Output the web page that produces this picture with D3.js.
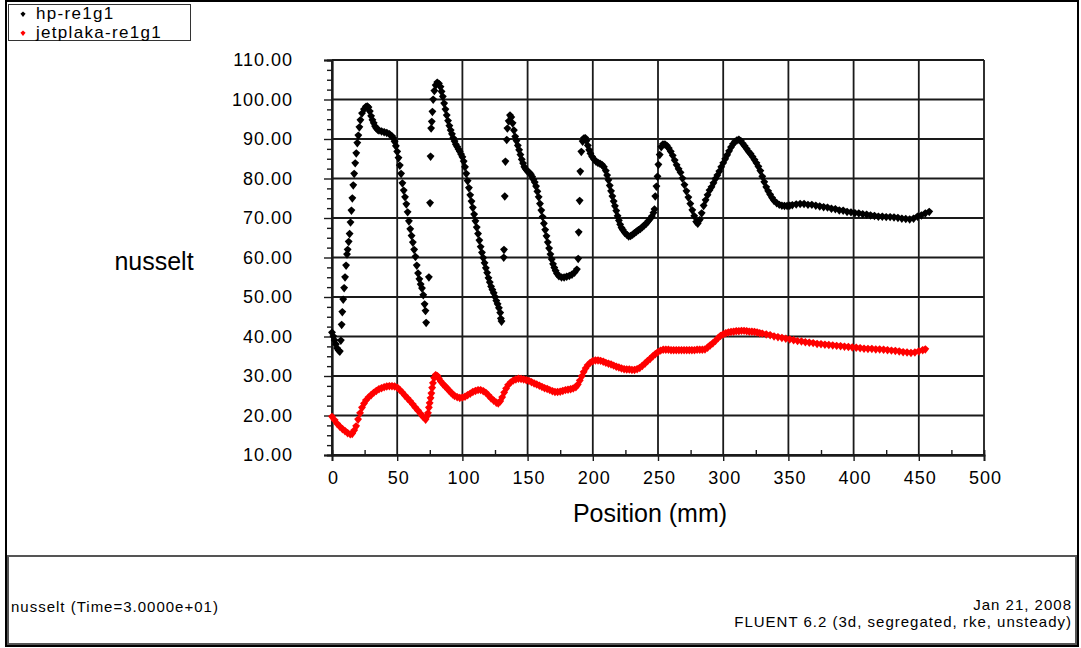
<!DOCTYPE html>
<html>
<head>
<meta charset="utf-8">
<script src="https://cdn.jsdelivr.net/npm/d3@7/dist/d3.min.js"></script>
<style>
  html, body { margin: 0; padding: 0; background: #fff; }
  svg { display: block; }
  text { font-family: "Liberation Sans", Arial, Helvetica, sans-serif; fill: #000; }
</style>
</head>
<body>
<svg id="chart" width="1081" height="648"></svg>
<script>
// ---- data: nusselt number along the plate, [position (mm), nusselt] ----
const seriesNames = ["hp-re1g1", "jetplaka-re1g1"];
const seriesColors = ["#000000", "#ff0000"];

const hpPoints = [
  [0,41],[1,40],[2,39],[3,38],[4,37],[5,36.5],[6,36.2],[6.8,39],[7.4,43],[7.9,46.2],
  [8.6,49.4],[9.3,52.3],[10,55],[10.8,58],[11.5,60.8],[12,62],[12.8,64],[13.5,66],[14.2,68.9],[14.9,71.9],
  [15.6,75],[16.3,78.3],[17,81.2],[17.8,83.9],[18.6,86.4],[19.4,89],[20.2,90.9],[21,93],[21.8,94.8],[23,96.5],
  [24.5,97.5],[26,98.2],[27,98.3],[28,98],[29,97],[30,95.8],[31,94.8],[32,94],[33,93.2],[34,92.7],
  [35,92.4],[36,92.2],[38,92],[40,91.8],[42,91.6],[44,91.3],[46,90.7],[47,90.2],[48,89.3],[49,88.2],
  [50,86.8],[51,85.2],[52,83.3],[53,81.2],[54,78.8],[55,77],[56,75.3],[57,73.5],[58,71.5],[59,69.2],
  [60,67.2],[61,65.5],[62,63.8],[63,62],[64,60.2],[65,58],[66,56],[67,54.5],[68,53.2],[69,52.2],
  [70,50.5],[71,48.2],[71.7,46.5],[72.2,43.5],
  [74.3,55],[75.2,73.8],[75.6,85.6],[76,92.7],[76.5,94.4],[77,96.9],[77.6,100],[78.5,102.2],[79.5,103.6],[80.7,104.3],
  [82,104],[83.2,103.2],[84,102],[85,100.7],[86,99],[87,97.5],[88,96],[89,94.6],[90,93.3],[91,92.2],
  [92,91.2],[93,90.2],[94,89.4],[95,88.6],[96,88],[97,87.4],[98,86.8],[99,86.1],[100,85.4],[101,84.3],
  [102,82.9],[103,81.2],[104,79.4],[105,77.6],[106,75.8],[107,74.2],[108,72.6],[109,70.9],[110,69.2],[111,67.6],
  [112,66],[113,64.3],[114,62.7],[115,61.2],[116,59.9],[117,58.6],[118,57.3],[119,56.1],[120,54.8],[121,53.7],
  [122,52.6],[123,51.8],[124,51],[125,50],[126,49],[127,48.2],[128,47.2],[129,46],[129.5,44.5],[130,43.8],
  [131.7,60],[131.9,62],[132.5,75.5],[133,84.3],[134,89.8],[134.5,92.7],[135.5,94.5],[136.5,96],[137.5,95.5],[138.5,94],
  [139.5,92.2],[140.5,90.6],[141.5,89.5],[142.5,88.3],[143.5,87.2],[144.5,86],[145.5,84.8],[146.5,83.8],[147.5,82.9],[148.5,82.4],
  [149.5,82],[150.5,81.7],[151.5,81.4],[152.5,81],[153.5,80.4],[154.5,79.7],[155.5,79],[156.5,78],[157.5,76.7],[158.5,75.3],
  [159.5,73.6],[160.5,71.9],[161.5,70.3],[162.5,68.6],[163.5,67],[164.5,65.4],[165.5,63.8],[166.5,62.3],[167.5,60.8],[168.5,59.5],
  [169.5,58.3],[170.5,57.4],[171.5,56.6],[172.5,55.9],[174,55.3],[176,55],[178,55],[180,55.2],[182,55.4],[184,55.7],
  [186,56.2],[187.8,57],
  [188.8,59.7],[189.2,66.4],[189.9,74.4],[190.4,81.8],[191.2,86.8],[192.2,89.4],[193.2,90.2],[194.2,90.3],[195.2,89.5],[196.2,88.3],
  [197.2,87.2],[198.2,86.3],[199.5,85.5],[201,84.8],[202.5,84.3],[204,84],[205.5,83.8],[207,83.5],[208.5,82.9],[210,81.9],
  [211,80.8],[212,79.6],[213,78.2],[214,76.8],[215,75.5],[216,74.2],[217,73],[218,71.8],[219,70.5],[220,69.3],
  [221,68.3],[222,67.5],[223,67],[224.5,66.3],[226,65.8],[227.5,65.4],[229,65.5],[230.5,65.8],[232,66.2],[233.5,66.6],
  [235,67],[236.5,67.3],[238,67.7],[239.5,68.2],[241,68.6],[242.5,69.2],[244,69.8],[245.3,70.4],[246.5,71.3],[247.3,72.2],
  [247.9,75.5],[248.8,78],[249.6,80.5],[250.3,83.5],[251.3,86],[252.5,88],[253.8,88.7],[255.3,88.7],[256.8,88.3],[258.3,87.6],
  [259.8,86.8],[261.3,85.8],[262.8,84.6],[264.3,83.4],[265.8,82.4],[267.3,81.5],[268.8,80],[270.3,78.4],[271.8,76.8],[273.3,75.2],
  [274.8,73.6],[276.3,72],[277.8,70.5],[279.3,69],[280.5,68.6],[282,69.5],[283.5,71.2],[285,73.1],[286.5,74.5],[288,75.8],
  [289.5,77],[291,77.8],[292.5,78.8],[294,79.9],[295.5,80.8],[297,81.8],[298.5,82.9],[300,83.9],[301.5,84.9],[303,85.9],
  [304.5,86.9],[306,87.9],[307.5,88.7],[309,89.3],[310.5,89.7],[312,89.9],[313.5,89.5],[315,88.8],[316.5,88.2],[318,87.5],
  [319.5,86.8],[321,86.2],[322.5,85.5],[324,84.7],[325.5,83.9],[327,83],[328.5,81.9],[330,80.5],[331.5,79.1],[333,77.8],
  [334.5,76.8],[336,75.9],[337.5,75.1],[339,74.4],[341,73.8],[343,73.4],[345,73.2],[347,73.1],[349,73.1],[351,73.2],
  [353,73.3],[356,73.5],[359,73.6],[362,73.6],[365,73.4],[368,73.4],[371,73.2],[374,73],[377,72.8],[380,72.7],
  [383,72.4],[386,72.3],[389,72],[392,71.9],[395,71.6],[398,71.5],[401,71.3],[404,71.2],[407,71],[410,70.9],
  [413,70.7],[416,70.6],[419,70.4],[422,70.4],[425,70.3],[428,70.3],[431,70.2],[434,70.1],[437,69.9],[440,69.8],
  [443,69.7],[446,69.9],[449,70.4],[452,70.7],[455,71.2],[458,71.6]
];

const jetPoints = [
  [0,19.7],[2,18.8],[4,17.9],[6,17.2],[8,16.6],[10,16.1],[12,15.6],[14,15.3],[15.5,15.4],[17,16.2],
  [18.5,17.3],[20,19],[21.5,20.6],[23,22],[24.5,23],[26,23.8],[28,24.6],[30,25.2],[32,25.8],[34,26.3],
  [36,26.7],[38,27],[40,27.2],[42,27.4],[44,27.5],[46,27.5],[48,27.4],[50,27.1],[52,26.5],[54,25.8],
  [56,25],[58,24.3],[60,23.6],[62,22.8],[64,22],[66,21.2],[68,20.4],[70,19.6],[71.8,19],[72.8,19.8],
  [73.6,20.6],[74.3,22],[74.9,23.1],[75.6,24.4],[76.2,25.6],[76.8,27],[77.4,28.2],[78.3,29.5],[79.5,30.3],[80.8,30],
  [82,29.3],[83.5,28.6],[85,28],[86.5,27.5],[88,27],[89.5,26.4],[91,25.9],[92.5,25.4],[94,25],[96,24.7],
  [98,24.5],[100,24.6],[102,24.8],[104,25.2],[106,25.6],[108,26],[110,26.3],[112,26.5],[114,26.5],[116,26.2],
  [118,25.8],[120,25.1],[122,24.4],[124,23.8],[126,23.3],[127.5,23.1],[129,23.6],[130.5,24.6],[132,25.8],[133.5,26.8],
  [135,27.7],[137,28.4],[139,28.9],[141,29.2],[143,29.4],[145,29.3],[147,29.2],[149,29],[151,28.8],[153,28.5],
  [155,28.2],[157,27.9],[159,27.6],[161,27.3],[163,27],[165,26.8],[167,26.5],[169,26.2],[171,26],[173,26],
  [175,26.1],[177,26.3],[179,26.5],[181,26.6],[183,26.7],[185,26.9],[187,27.2],[188.5,27.8],[190,28.8],[191.5,29.9],
  [193,31],[194.5,31.9],[196,32.7],[198,33.4],[200,33.8],[202,34],[204,34],[206,33.9],[208,33.7],[210,33.4],
  [212,33.2],[214,33],[216,32.7],[218,32.4],[220,32.2],[222,32],[224,31.8],[226,31.7],[228,31.7],[230,31.6],
  [232,31.6],[234,31.8],[236,32.1],[238,32.6],[240,33.2],[242,33.8],[244,34.4],[246,35],[248,35.6],[250,36.1],
  [252,36.5],[254,36.7],[256,36.7],[258,36.7],[260,36.6],[262,36.6],[264,36.6],[266,36.6],[268,36.6],[270,36.6],
  [272,36.6],[274,36.6],[276,36.6],[278,36.6],[280,36.7],[282,36.7],[284,36.7],[286,36.8],[288,37.2],[290,37.8],
  [292,38.3],[294,38.9],[296,39.6],[298,40.2],[300,40.6],[302,40.9],[304,41.1],[306,41.2],[308,41.3],[310,41.4],
  [312,41.4],[314,41.5],[316,41.5],[318,41.4],[320,41.3],[322,41.3],[324,41.2],[326,41.1],[328,40.9],[330,40.8],
  [333,40.6],[336,40.4],[339,40.1],[342,39.9],[345,39.7],[348,39.5],[351,39.3],[354,39.1],[357,38.9],[360,38.8],
  [363,38.6],[366,38.5],[369,38.4],[372,38.2],[375,38.1],[378,38],[381,37.9],[384,37.8],[387,37.7],[390,37.6],
  [393,37.5],[396,37.4],[399,37.3],[402,37.2],[405,37.1],[408,37],[411,36.9],[414,36.9],[417,36.8],[420,36.8],
  [423,36.7],[426,36.6],[429,36.5],[432,36.4],[435,36.3],[438,36.1],[441,36],[444,35.9],[447,36],[450,36.3],
  [453,36.6],[455,36.8]
];

const xTicks = [0, 50, 100, 150, 200, 250, 300, 350, 400, 450, 500];
const yTicks = [10, 20, 30, 40, 50, 60, 70, 80, 90, 100, 110];
const xTitle = "Position (mm)";
const yTitle = "nusselt";
const footerLeft = "nusselt (Time=3.0000e+01)";
const footerDate = "Jan 21, 2008";
const footerSolver = "FLUENT 6.2 (3d, segregated, rke, unsteady)";

// ---- layout ----
const W = 1081, H = 648;
const plot = { left: 332, right: 984, top: 60, bottom: 455 };

const svg = d3.select("#chart");

const x = d3.scaleLinear().domain([0, 500]).range([plot.left, plot.right]);
const y = d3.scaleLinear().domain([10, 110]).range([plot.bottom, plot.top]);

// outer frame
svg.append("rect")
  .attr("x", 6).attr("y", 1).attr("width", W - 9).attr("height", H - 3)
  .attr("fill", "none").attr("stroke", "#000").attr("stroke-width", 2);

// grid
const grid = svg.append("g").attr("stroke", "#1a1a1a").attr("stroke-width", 1.8);
grid.selectAll("line.vx").data(xTicks).join("line")
  .attr("x1", d => x(d)).attr("x2", d => x(d))
  .attr("y1", plot.top).attr("y2", plot.bottom);
grid.selectAll("line.hy").data(yTicks).join("line")
  .attr("x1", plot.left).attr("x2", plot.right)
  .attr("y1", d => y(d)).attr("y2", d => y(d));

// y axis: major ticks out to the left, three minor ticks per interval
const yAxis = d3.axisLeft(y).tickValues(yTicks).tickSize(8).tickPadding(31)
  .tickFormat(d3.format(".2f"));
const yAxisG = svg.append("g").attr("transform", `translate(${plot.left},0)`).call(yAxis);
const yMinor = d3.axisLeft(y).tickValues(d3.range(10, 110, 2.5).filter(v => v % 10 !== 0))
  .tickSize(5).tickFormat("");
const yMinorG = svg.append("g").attr("transform", `translate(${plot.left},0)`).call(yMinor);

// x axis: major ticks below, minor ticks at mid-interval pointing up
const xAxis = d3.axisBottom(x).tickValues(xTicks).tickSize(6).tickPadding(10);
const xAxisG = svg.append("g").attr("transform", `translate(0,${plot.bottom})`).call(xAxis);
const xMinor = d3.axisBottom(x).tickValues(d3.range(25, 500, 50)).tickSize(-5).tickFormat("");
const xMinorG = svg.append("g").attr("transform", `translate(0,${plot.bottom})`).call(xMinor);

[yAxisG, yMinorG, xAxisG, xMinorG].forEach(g => {
  g.select(".domain").attr("stroke", "#1a1a1a").attr("stroke-width", 1.8);
  g.selectAll(".tick line").attr("stroke", "#1a1a1a").attr("stroke-width", 1.4);
  g.selectAll(".tick text")
    .attr("font-family", "Liberation Sans, Arial, sans-serif")
    .attr("font-size", 18).attr("fill", "#000").attr("letter-spacing", 1);
});
xAxisG.selectAll(".tick text").attr("dx", 1);

// axis titles
svg.append("text").attr("x", 154).attr("y", 263)
  .attr("text-anchor", "middle").attr("dominant-baseline", "middle")
  .attr("font-size", 25).text(yTitle);
svg.append("text").attr("x", x(250) - 8).attr("y", 515)
  .attr("text-anchor", "middle").attr("dominant-baseline", "middle")
  .attr("font-size", 25).text(xTitle);

// diamond marker, slightly taller than wide
const diamond = {
  draw(ctx, size) {
    const r = Math.sqrt(size) / 2;
    ctx.moveTo(0, -r);
    ctx.lineTo(r, -r * 0.1);
    ctx.lineTo(0, r * 1.15);
    ctx.lineTo(-r, -r * 0.1);
    ctx.closePath();
  }
};
const marker = d3.symbol().type(diamond).size(62);

const series = [hpPoints, jetPoints];
series.forEach((pts, i) => {
  svg.append("g").attr("fill", seriesColors[i])
    .selectAll("path").data(pts).join("path")
    .attr("transform", d => `translate(${x(d[0])},${y(d[1])})`)
    .attr("d", marker);
});

// legend box
const legend = svg.append("g");
legend.append("rect").attr("x", 8.5).attr("y", 4.5).attr("width", 182).attr("height", 36)
  .attr("fill", "#fff").attr("stroke", "#333").attr("stroke-width", 1);
seriesNames.forEach((name, i) => {
  const ly = 14 + i * 19;
  legend.append("path").attr("transform", `translate(23,${ly})`)
    .attr("d", d3.symbol().type(diamond).size(26)).attr("fill", seriesColors[i]);
  legend.append("text").attr("x", 36).attr("y", ly + 1)
    .attr("dominant-baseline", "middle").attr("font-size", 17)
    .attr("letter-spacing", 1.3).text(name);
});

// footer box
const footer = svg.append("g");
footer.append("rect").attr("x", 8).attr("y", 556).attr("width", 1068).attr("height", 88)
  .attr("fill", "#fff").attr("stroke", "#555").attr("stroke-width", 2);
footer.append("text").attr("x", 11).attr("y", 612).attr("font-size", 15)
  .attr("letter-spacing", 1).text(footerLeft);
footer.append("text").attr("x", 1072).attr("y", 610).attr("text-anchor", "end")
  .attr("font-size", 15).attr("letter-spacing", 1).text(footerDate);
footer.append("text").attr("x", 1072).attr("y", 627).attr("text-anchor", "end")
  .attr("font-size", 15).attr("letter-spacing", 1).text(footerSolver);
</script>
</body>
</html>
